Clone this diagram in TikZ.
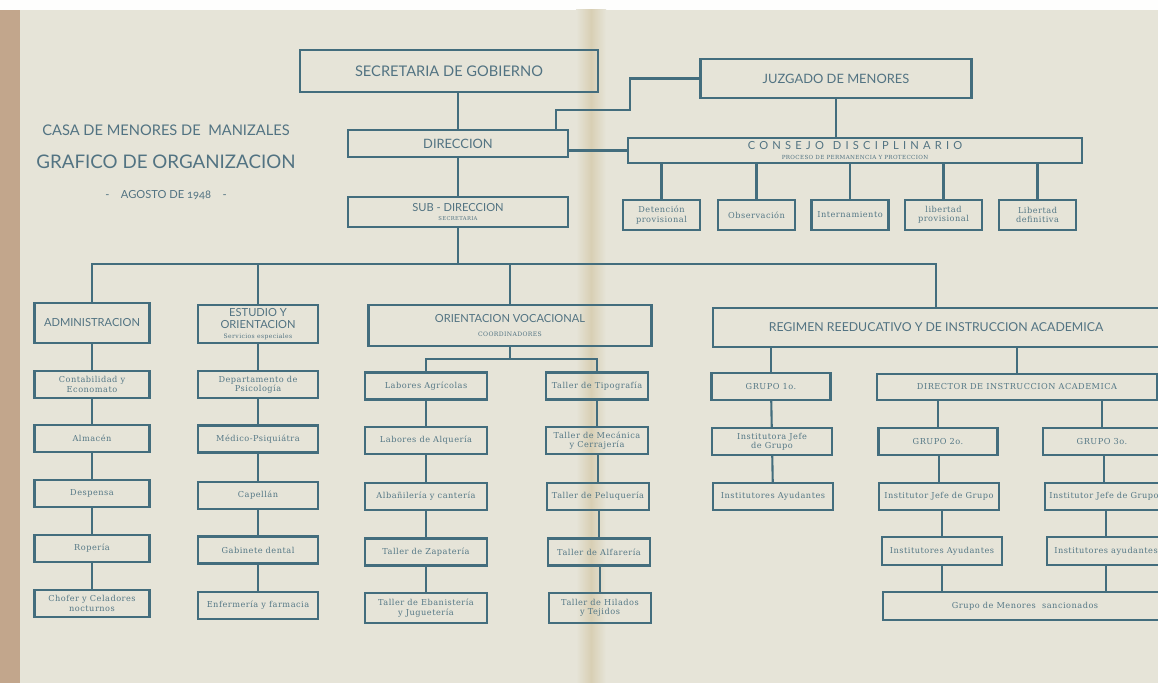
\documentclass[tikz,border=0pt]{standalone}
\usepackage{fontspec}
\newfontfamily\gill{Lato}
\newfontfamily\gillold[Numbers=OldStyle]{Lato}
\newfontfamily\slab[LetterSpace=6]{DejaVu Serif}
\newfontfamily\spaced[LetterSpace=38]{Lato}
\definecolor{paper}{HTML}{E6E4D8}
\definecolor{leather}{HTML}{C2A68C}
\definecolor{foldcol}{HTML}{D8CFB4}
\definecolor{lineblue}{HTML}{436D7D}
\definecolor{headblue}{HTML}{527382}
\definecolor{inkblue}{HTML}{557886}
\begin{document}
\begin{tikzpicture}[x=0.03cm, y=-0.03cm,
  box/.style={draw=lineblue, line width=1.8pt, inner sep=0pt, align=center, text=inkblue, font=\slab\fontsize{7}{8}\selectfont},
  head/.style={box, text=headblue, font=\gill\fontsize{9.5}{10.5}\selectfont},
  sz/.style 2 args={minimum width=#1*0.03cm, minimum height=#2*0.03cm},
  link/.style={draw=lineblue, line width=1.8pt},
  title/.style={text=headblue, inner sep=0pt}]
\useasboundingbox (0,0) rectangle (1158,683);
\fill[paper] (0,0) rectangle (1158,683);
\fill[white!96!paper] (0,0) rectangle (1158,10);
\fill[leather] (0,10) rectangle (20,683);
\shade[left color=paper, right color=paper, middle color=foldcol] (576,10) rectangle (606,683);

\node[title, font=\gill\fontsize{12.5}{14}\selectfont] (casa) at (166,130) {CASA DE MENORES DE\ \ MANIZALES};
\node[title, font=\gill\fontsize{16}{18}\selectfont] (grafico) at (166,162) {GRAFICO DE ORGANIZACION};
\node[title, font=\gillold\fontsize{9.5}{10}\selectfont] (fecha) at (166,195) {-\ \ \ \ AGOSTO DE 1948\ \ \ \ -};

\node[head, sz={298}{42}, font=\gill\fontsize{12.5}{14}\selectfont] (sec) at (449,71) {SECRETARIA DE GOBIERNO};
\node[head, sz={220}{27}, font=\gill\fontsize{11}{13}\selectfont] (dir) at (458,143.5) {DIRECCION};
\node[head, sz={220}{30}] (sub) at (458,212) {SUB - DIRECCION\\[-2pt]{\slab\fontsize{4.5}{5}\selectfont SECRETARIA}};
\node[head, sz={271}{39}, font=\gill\fontsize{11}{13}\selectfont] (juz) at (836,78.5) {JUZGADO DE MENORES};
\node[head, sz={454}{25}] (con) at (855,150.5) {{\spaced\fontsize{9.5}{9}\selectfont CONSEJO\hspace{0.8em}DISCIPLINARIO}\\[-2pt]{\slab\fontsize{4.8}{5}\selectfont PROCESO DE PERMANENCIA Y PROTECCION}};

\node[box, sz={77}{30}] (d1) at (661.5,215) {Detención\\provisional};
\node[box, sz={77}{30}] (d2) at (756.5,215) {Observación};
\node[box, sz={77}{30}] (d3) at (850,215) {Internamiento};
\node[box, sz={77}{30}] (d4) at (943.5,215) {libertad\\provisional};
\node[box, sz={77}{30}] (d5) at (1037.5,215) {Libertad\\definitiva};

\node[head, sz={115}{40}] (adm) at (92,323) {ADMINISTRACION};
\node[head, sz={120}{38}] (est) at (258,324) {ESTUDIO Y\\ORIENTACION\\[-2pt]{\slab\fontsize{5.2}{6}\selectfont Servicios especiales}};
\node[head, sz={283}{41}, font=\gill\fontsize{9.5}{11}\selectfont] (ov) at (510,325.5) {ORIENTACION VOCACIONAL\\[1pt]{\slab\fontsize{5.2}{6}\selectfont COORDINADORES}};
\node[head, sz={446}{39}, font=\gill\fontsize{10.5}{12}\selectfont] (reg) at (936,327.5) {REGIMEN REEDUCATIVO Y DE INSTRUCCION ACADEMICA};

\node[box, sz={115}{27}] (a1) at (92,384.5) {Contabilidad y\\Economato};
\node[box, sz={115}{27}] (a2) at (92,438.5) {Almacén};
\node[box, sz={115}{27}] (a3) at (92,493.5) {Despensa};
\node[box, sz={115}{27}] (a4) at (92,548.5) {Ropería};
\node[box, sz={115}{27}] (a5) at (92,603.5) {Chofer y Celadores\\nocturnos};

\node[box, sz={120}{27}] (e1) at (258,384.5) {Departamento de\\Psicología};
\node[box, sz={120}{27}] (e2) at (258,439) {Médico-Psiquiátra};
\node[box, sz={120}{27}] (e3) at (258,495.5) {Capellán};
\node[box, sz={120}{27}] (e4) at (258,550) {Gabinete dental};
\node[box, sz={120}{27}] (e5) at (258,605.5) {Enfermería y farmacia};

\node[box, sz={122}{27}] (l1) at (426,386) {Labores Agrícolas};
\node[box, sz={122}{27}] (l2) at (426,440.5) {Labores de Alquería};
\node[box, sz={122}{27}] (l3) at (426,496.5) {Albañilería y cantería};
\node[box, sz={122}{27}] (l4) at (426,552) {Taller de Zapatería};
\node[box, sz={122}{30}] (l5) at (426,608) {Taller de Ebanistería\\y Juguetería};

\node[box, sz={102}{27}] (t1) at (597,386) {Taller de Tipografía};
\node[box, sz={102}{27}] (t2) at (597,440.5) {Taller de Mecánica\\y Cerrajería};
\node[box, sz={102}{27}] (t3) at (598,496.5) {Taller de Peluquería};
\node[box, sz={102}{27}] (t4) at (599,552) {Taller de Alfarería};
\node[box, sz={102}{30}] (t5) at (600,608) {Taller de Hilados\\y Tejidos};

\node[box, sz={119}{27}] (g1) at (771,386.5) {GRUPO 1o.};
\node[box, sz={280}{26}] (dia) at (1017,387) {DIRECTOR DE INSTRUCCION ACADEMICA};
\node[box, sz={120}{27}] (ij1) at (772,441.5) {Institutora Jefe\\de Grupo};
\node[box, sz={119}{27}] (g2) at (938,441.5) {GRUPO 2o.};
\node[box, sz={118}{27}] (g3) at (1102,441.5) {GRUPO 3o.};
\node[box, sz={120}{27}] (ia1) at (773,496.5) {Institutores Ayudantes};
\node[box, sz={120}{27}] (ij2) at (939,496.5) {Institutor Jefe de Grupo};
\node[box, sz={118}{27}] (ij3) at (1104,496.5) {Institutor Jefe de Grupo};
\node[box, sz={120}{28}] (ia2) at (942,551) {Institutores Ayudantes};
\node[box, sz={118}{28}] (ia3) at (1106,551) {Institutores ayudantes};
\node[box, sz={284}{28}] (gms) at (1025,606) {Grupo de Menores\ \ sancionados};

\coordinate (bar) at (0,264);
\coordinate (obar) at (0,359);
\coordinate (jbend) at (630,110);
\coordinate (dirtop) at (556,130);

\draw[link] (dir) -- (dir |- sec.south);
\draw[link] (dir) -- (sub);
\draw[link] (juz.west) -| (jbend) -| (dirtop);
\draw[link] (con.west) -- (con.west -| dir.east);
\draw[link] (juz) -- (juz |- con.north);
\foreach \d in {d1,d2,d3,d4,d5}
  \draw[link] (\d) -- (\d |- con.south);

\draw[link] (adm) -- (adm |- bar) -- (reg |- bar) -- (reg);
\draw[link] (sub) -- (sub |- bar);
\draw[link] (est) -- (est |- bar);
\draw[link] (ov) -- (ov |- bar);
\draw[link] (ov) -- (ov |- obar);
\draw[link] (l1) -- (l1 |- obar) -- (t1 |- obar) -- (t1);

\foreach \a/\b in {adm/a1,a1/a2,a2/a3,a3/a4,a4/a5,est/e1,e1/e2,e2/e3,e3/e4,e4/e5,l1/l2,l2/l3,l3/l4,l4/l5,t1/t2,g1/ij1,ij1/ia1}
  \draw[link] (\a) -- (\b);
\foreach \a/\b in {t2/t3,t3/t4,t4/t5,g2/ij2,ij2/ia2,g3/ij3,ij3/ia3}
  \draw[link] (\b) -- (\b |- \a.south);

\draw[link] (g1) -- (g1 |- reg.south);
\draw[link] (dia) -- (dia |- reg.south);
\draw[link] (g2) -- (g2 |- dia.south);
\draw[link] (g3) -- (g3 |- dia.south);
\draw[link] (ia2) -- (ia2 |- gms.north);
\draw[link] (ia3) -- (ia3 |- gms.north);
\end{tikzpicture}
\end{document}
